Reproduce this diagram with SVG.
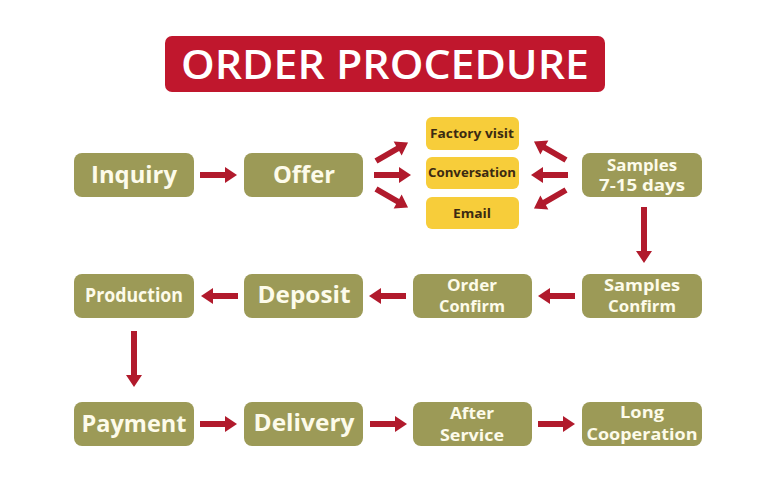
<svg xmlns="http://www.w3.org/2000/svg" xmlns:xlink="http://www.w3.org/1999/xlink" width="781" height="484" viewBox="0 0 781 484">
<style>
.box{fill:#9c9a57;}
.yel{fill:#f7cd3a;}
.t{font-family:"Open Sans","Noto Sans",sans-serif;font-weight:700;fill:#fdfbea;text-anchor:middle;}
.big{font-size:23px;}
.sm{font-size:16px;}
.yt{font-family:"Open Sans","Noto Sans",sans-serif;font-weight:700;fill:#3b2a12;font-size:13px;text-anchor:middle;}
.arr{fill:#b11a2c;}
</style>
<defs>
<path id="a37" d="M0,-3 H25 V-8 L37,0 L25,8 V3 H0 Z"/>
<path id="a56" d="M0,-3 H44 V-8 L56,0 L44,8 V3 H0 Z"/>
</defs>
<rect width="781" height="484" fill="#ffffff"/>
<g id="title">
<rect x="165" y="36" width="440" height="56" rx="7" fill="#c0172d"/>
<text x="385" y="79" font-family="'Open Sans','Noto Sans',sans-serif" font-weight="600" font-size="40" fill="#ffffff" text-anchor="middle" textLength="408" lengthAdjust="spacingAndGlyphs">ORDER PROCEDURE</text>
</g>
<g id="inquiry"><rect class="box" x="74" y="153" width="120" height="44" rx="8"/><text class="t big" x="134" y="183" textLength="86" lengthAdjust="spacingAndGlyphs">Inquiry</text></g>
<g id="offer"><rect class="box" x="244" y="153" width="119" height="44" rx="8"/><text class="t big" x="304" y="183" textLength="62" lengthAdjust="spacingAndGlyphs">Offer</text></g>
<g id="factory"><rect class="yel" x="426" y="117" width="93" height="33" rx="6"/><text class="yt" x="472" y="138" textLength="84" lengthAdjust="spacingAndGlyphs">Factory visit</text></g>
<g id="conversation"><rect class="yel" x="426" y="157" width="93" height="32" rx="6"/><text class="yt" x="472" y="177" textLength="88" lengthAdjust="spacingAndGlyphs">Conversation</text></g>
<g id="email"><rect class="yel" x="426" y="197" width="93" height="32" rx="6"/><text class="yt" x="472" y="218" textLength="38" lengthAdjust="spacingAndGlyphs">Email</text></g>
<g id="samples"><rect class="box" x="582" y="153" width="120" height="44" rx="8"/><text class="t sm" x="642" y="171" textLength="70" lengthAdjust="spacingAndGlyphs">Samples</text><text class="t sm" x="642" y="191" textLength="86" lengthAdjust="spacingAndGlyphs">7-15 days</text></g>
<g id="production"><rect class="box" x="74" y="274" width="120" height="44" rx="8"/><text class="t" x="134" y="302" font-size="19" textLength="98" lengthAdjust="spacingAndGlyphs">Production</text></g>
<g id="deposit"><rect class="box" x="244" y="274" width="119" height="44" rx="8"/><text class="t big" x="304" y="303" textLength="93" lengthAdjust="spacingAndGlyphs">Deposit</text></g>
<g id="orderconfirm"><rect class="box" x="413" y="274" width="119" height="44" rx="8"/><text class="t sm" x="472" y="291" textLength="50" lengthAdjust="spacingAndGlyphs">Order</text><text class="t sm" x="472" y="312" textLength="66" lengthAdjust="spacingAndGlyphs">Confirm</text></g>
<g id="samplesconfirm"><rect class="box" x="582" y="274" width="120" height="44" rx="8"/><text class="t sm" x="642" y="291" textLength="76" lengthAdjust="spacingAndGlyphs">Samples</text><text class="t sm" x="642" y="312" textLength="68" lengthAdjust="spacingAndGlyphs">Confirm</text></g>
<g id="payment"><rect class="box" x="74" y="402" width="120" height="44" rx="8"/><text class="t big" x="134" y="432" textLength="105" lengthAdjust="spacingAndGlyphs">Payment</text></g>
<g id="delivery"><rect class="box" x="244" y="402" width="119" height="44" rx="8"/><text class="t big" x="304" y="431" textLength="101" lengthAdjust="spacingAndGlyphs">Delivery</text></g>
<g id="afterservice"><rect class="box" x="413" y="402" width="119" height="44" rx="8"/><text class="t sm" x="472" y="419" textLength="44" lengthAdjust="spacingAndGlyphs">After</text><text class="t sm" x="472" y="441" textLength="64" lengthAdjust="spacingAndGlyphs">Service</text></g>
<g id="longcooperation"><rect class="box" x="582" y="402" width="120" height="44" rx="8"/><text class="t sm" x="642" y="418" textLength="44" lengthAdjust="spacingAndGlyphs">Long</text><text class="t sm" x="642" y="440" textLength="111" lengthAdjust="spacingAndGlyphs">Cooperation</text></g>
<g id="connectors" class="arr">
<use xlink:href="#a37" transform="translate(200,175)"/>
<use xlink:href="#a37" transform="translate(376,161) rotate(-30)"/>
<use xlink:href="#a37" transform="translate(374,175)"/>
<use xlink:href="#a37" transform="translate(376,189) rotate(30)"/>
<use xlink:href="#a37" transform="translate(566,160) rotate(-150)"/>
<use xlink:href="#a37" transform="translate(568,175) rotate(180)"/>
<use xlink:href="#a37" transform="translate(566,190) rotate(150)"/>
<use xlink:href="#a56" transform="translate(644,207) rotate(90)"/>
<use xlink:href="#a37" transform="translate(575,296) rotate(180)"/>
<use xlink:href="#a37" transform="translate(406,296) rotate(180)"/>
<use xlink:href="#a37" transform="translate(238,296) rotate(180)"/>
<use xlink:href="#a56" transform="translate(134,331) rotate(90)"/>
<use xlink:href="#a37" transform="translate(200,424)"/>
<use xlink:href="#a37" transform="translate(370,424)"/>
<use xlink:href="#a37" transform="translate(538,424)"/>
</g>
</svg>
